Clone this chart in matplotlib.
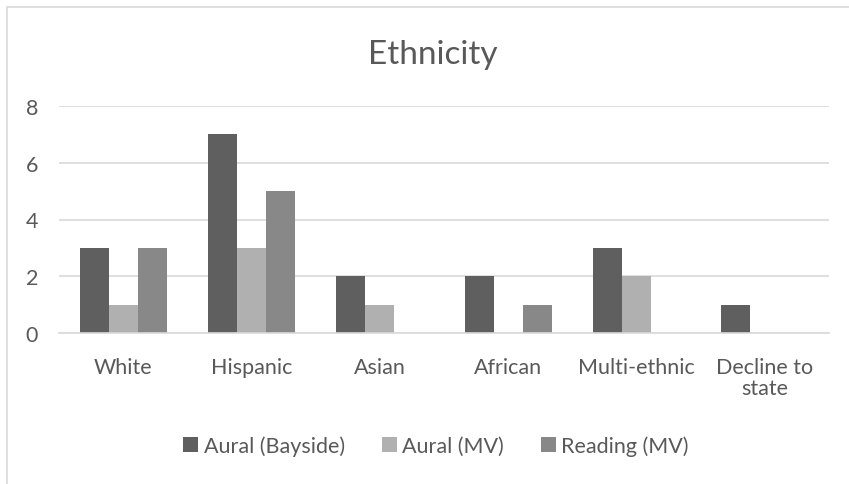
import numpy as np
from matplotlib import pyplot as plt
from matplotlib.patches import Rectangle

categories = ['White', 'Hispanic', 'Asian', 'African', 'Multi-ethnic', 'Decline to\nstate']
aural_bayside = [3, 7, 2, 2, 3, 1]
aural_mv = [1, 3, 1, 0, 2, 0]
reading_mv = [3, 5, 0, 1, 0, 0]
series_names = ['Aural (Bayside)', 'Aural (MV)', 'Reading (MV)']
colors = ['#5f5f5f', '#b0b0b0', '#888888']

plt.rcParams['font.family'] = ['Lato', 'DejaVu Sans']
txt = '#595959'

fig = plt.figure(figsize=(8.49, 4.85), dpi=100)
# outer chart frame, cut off on the right and bottom
fig.patches.append(Rectangle((7 / 849, -0.1), 1.2, (485 - 8) / 485 + 0.1,
                             transform=fig.transFigure, fill=False,
                             edgecolor='#d9d9d9', linewidth=1.2))

ax = fig.add_axes([59 / 849, 1 - 334 / 485, 770 / 849, 227 / 485])
x = np.arange(len(categories))
w = 0.226
for i, vals in enumerate([aural_bayside, aural_mv, reading_mv]):
    ax.bar(x + (i - 1) * w, vals, w, color=colors[i], label=series_names[i], zorder=3)

ax.set_xlim(-0.5, len(categories) - 0.5)
ax.set_ylim(0, 8)
ax.set_yticks([0, 2, 4, 6, 8])
ax.set_xticks(x)
ax.set_xticklabels(categories, fontsize=15.5, color=txt, linespacing=1.1)
ax.tick_params(axis='y', labelsize=15.5, colors=txt, length=0, pad=15)
ax.tick_params(axis='x', length=0, pad=17)
ax.grid(axis='y', color='#d9d9d9', linewidth=1.2, zorder=0)
for s in ['top', 'right', 'left']:
    ax.spines[s].set_visible(False)
ax.spines['bottom'].set_color('#d9d9d9')
ax.spines['bottom'].set_linewidth(1.2)
ax.spines['bottom'].set_zorder(4)

fig.text(433 / 849, 1 - 55 / 485, 'Ethnicity', ha='center', va='center',
         fontsize=24, color=txt)

fig.legend(loc='center', bbox_to_anchor=(436 / 849, 1 - 447 / 485), ncol=3,
           frameon=False, fontsize=15.5, labelcolor=txt, handlelength=0.7,
           handleheight=0.7, handletextpad=0.25, columnspacing=1.72)

fig.savefig('out.png', dpi=100, facecolor='white')
